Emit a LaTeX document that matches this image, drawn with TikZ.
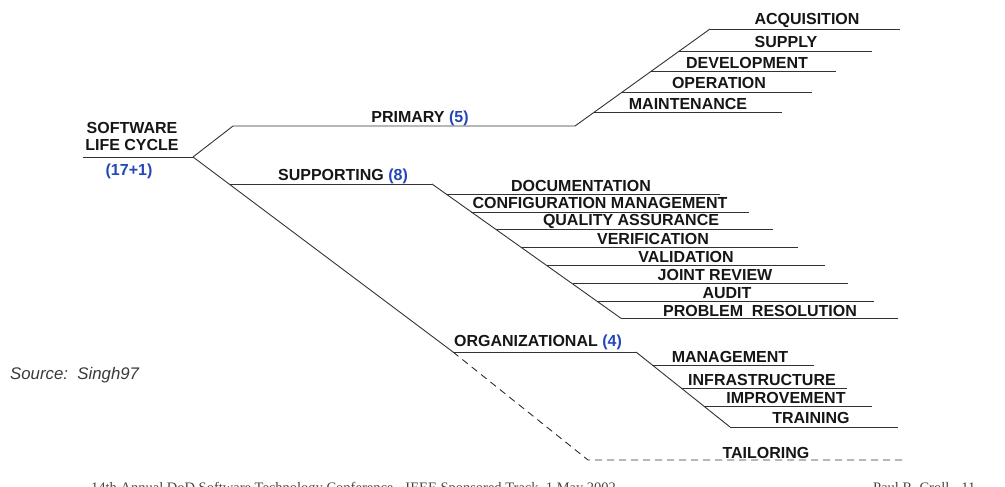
\documentclass[tikz,border=0pt]{standalone}
\usepackage{fontspec}
\setmainfont{Liberation Sans}
\newfontfamily\footfont{Liberation Serif}
\definecolor{countblue}{RGB}{35,70,185}
\definecolor{ink}{RGB}{22,22,22}
\definecolor{rulegray}{RGB}{50,50,50}
\newcommand{\cnt}[1]{\textcolor{countblue}{#1}}
\begin{document}
\begin{tikzpicture}[x=1pt,y=-1pt,
  lbl/.style={font=\fontsize{16}{17}\selectfont\bfseries, text=ink, inner sep=0pt, anchor=center},
  ln/.style={draw=rulegray, line width=0.9pt},
  dsh/.style={ln, dash pattern=on 7pt off 5pt},
  src/.style={font=\fontsize{16.8}{18}\selectfont\itshape, text=ink!85, inner sep=0pt, anchor=west},
  foot/.style={font=\footfont\fontsize{14.5}{16}\selectfont, text=ink!80, inner sep=0pt, anchor=base west}]
\useasboundingbox (0,0) rectangle (1005,487);

% --- root ---
\coordinate (rootL) at (83,157);
\coordinate (root) at (193,157);
\node[lbl] (sw1) at (132,128) {SOFTWARE};
\node[lbl] (sw2) at (132,145) {LIFE CYCLE};
\node[lbl, text=countblue] (swn) at (129,171) {(17+1)};
\draw[ln] (rootL) -- (root);

% --- primary process branch ---
\coordinate (priA) at (233,126);
\coordinate (priB) at (575,126);
\node[lbl] (pri) at (420,118) {PRIMARY \cnt{(5)}};
\draw[ln] (root) -- (priA) -- (priB);

\coordinate (acqA) at (710,29);   \coordinate (acqB) at (900,29);
\coordinate (supA) at (679,51);   \coordinate (supB) at (872,51);
\coordinate (devA) at (651,71.7); \coordinate (devB) at (836,71.7);
\coordinate (opA)  at (622,92.3); \coordinate (opB)  at (812,92.3);
\coordinate (mntA) at (594,112.3);\coordinate (mntB) at (782,112.3);
\draw[ln] (priB) -- (acqA);
\foreach \a/\b in {acqA/acqB,supA/supB,devA/devB,opA/opB,mntA/mntB}
  \draw[ln] (\a) -- (\b);
\node[lbl] (acq) at (807,20)  {ACQUISITION};
\node[lbl] (sup) at (786,42)  {SUPPLY};
\node[lbl] (dev) at (747,63)  {DEVELOPMENT};
\node[lbl] (op)  at (719,83)  {OPERATION};
\node[lbl] (mnt) at (688,104) {MAINTENANCE};

% --- supporting process branch ---
\coordinate (orgA) at (453,352);
\coordinate (supcA) at (230,184);
\coordinate (supcB) at (432,184);
\node[lbl] (supc) at (343,176) {SUPPORTING \cnt{(8)}};
\draw[ln] (root) -- (orgA);
\draw[ln] (supcA) -- (supcB);

\coordinate (docA) at (446,194);   \coordinate (docB) at (720,194);
\coordinate (cfgA) at (471,212);   \coordinate (cfgB) at (749,212);
\coordinate (qaA)  at (496,229.3); \coordinate (qaB)  at (773,229.3);
\coordinate (verA) at (522,247.7); \coordinate (verB) at (798,247.7);
\coordinate (valA) at (547,265);   \coordinate (valB) at (825,265);
\coordinate (jrA)  at (573,283.3); \coordinate (jrB)  at (848,283.3);
\coordinate (audA) at (598,301);   \coordinate (audB) at (874,301);
\coordinate (prA)  at (621,318.3); \coordinate (prB)  at (898,318.3);
\draw[ln] (supcB) -- (prA);
\foreach \a/\b in {docA/docB,cfgA/cfgB,qaA/qaB,verA/verB,valA/valB,jrA/jrB,audA/audB,prA/prB}
  \draw[ln] (\a) -- (\b);
\node[lbl] (doc) at (581,186) {DOCUMENTATION};
\node[lbl] (cfg) at (600,203) {CONFIGURATION MANAGEMENT};
\node[lbl] (qa)  at (631,221) {QUALITY ASSURANCE};
\node[lbl] (ver) at (653,239) {VERIFICATION};
\node[lbl] (val) at (686,257) {VALIDATION};
\node[lbl] (jr)  at (715,275) {JOINT REVIEW};
\node[lbl] (aud) at (727,293) {AUDIT};
\node[lbl] (pr)  at (760,311) {PROBLEM\ \ RESOLUTION};

% --- organizational process branch ---
\coordinate (orgB) at (636,352);
\node[lbl] (org) at (538,342) {ORGANIZATIONAL \cnt{(4)}};
\draw[ln] (orgA) -- (orgB);

\coordinate (mgA) at (652,365);  \coordinate (mgB) at (814,365);
\coordinate (inA) at (681,388);  \coordinate (inB) at (847,388);
\coordinate (imA) at (704,406);  \coordinate (imB) at (872,406);
\coordinate (trA) at (730,427);  \coordinate (trB) at (898,427);
\draw[ln] (orgB) -- (trA);
\foreach \a/\b in {mgA/mgB,inA/inB,imA/imB,trA/trB}
  \draw[ln] (\a) -- (\b);
\node[lbl] (mg) at (730,357) {MANAGEMENT};
\node[lbl] (in) at (762,380) {INFRASTRUCTURE};
\node[lbl] (im) at (786,398) {IMPROVEMENT};
\node[lbl] (tr) at (811,418) {TRAINING};

% --- tailoring (dashed) ---
\coordinate (tlA) at (588,460);
\coordinate (tlB) at (902,460);
\draw[dsh] (orgA) -- (tlA) -- (tlB);
\node[lbl] (tl) at (766,453) {TAILORING};

% --- source note and footer ---
\node[src] (srcnote) at (10,375) {Source:\ \ Singh97};
\node[foot] (footL) at (91,492.5) {14th Annual DoD Software Technology Conference - IEEE Sponsored Track, 1 May 2002};
\node[foot] (footR) at (873,492.5) {Paul R. Croll - 11};
\end{tikzpicture}
\end{document}
